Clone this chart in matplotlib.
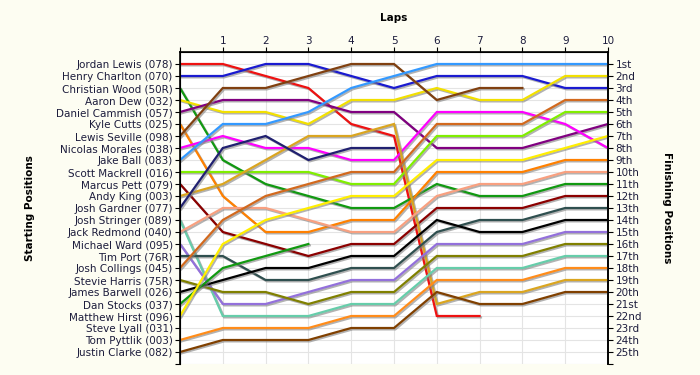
import matplotlib
matplotlib.use("Agg")
import matplotlib.pyplot as plt
import matplotlib.patheffects as pe

# Drivers in starting order (grid slot 1..25)
drivers = [
    "Jordan Lewis (078)", "Henry Charlton (070)", "Christian Wood (50R)",
    "Aaron Dew (032)", "Daniel Cammish (057)", "Kyle Cutts (025)",
    "Lewis Seville (098)", "Nicolas Morales (038)", "Jake Ball (083)",
    "Scott Mackrell (016)", "Marcus Pett (079)", "Andy King (003)",
    "Josh Gardner (077)", "Josh Stringer (089)", "Jack Redmond (040)",
    "Michael Ward (095)", "Tim Port (76R)", "Josh Collings (045)",
    "Stevie Harris (75R)", "James Barwell (026)", "Dan Stocks (037)",
    "Matthew Hirst (096)", "Steve Lyall (031)", "Tom Pyttlik (003)",
    "Justin Clarke (082)",
]

# position at lap 0, 1, 2 ... (shorter list = retired)
lap_positions = [
    [1, 1, 2, 3, 6, 7, 22, 22],
    [2, 2, 1, 1, 2, 3, 2, 2, 2, 3, 3],
    [3, 9, 11, 12, 13, 13, 11, 12, 12, 11, 11],
    [4, 5, 5, 6, 4, 4, 3, 4, 4, 2, 2],
    [5, 4, 4, 4, 5, 5, 8, 8, 8, 7, 6],
    [6, 12, 15, 15, 14, 14, 10, 10, 10, 9, 9],
    [7, 3, 3, 2, 1, 1, 4, 3, 3],
    [8, 7, 8, 8, 9, 9, 5, 5, 5, 6, 8],
    [9, 6, 6, 5, 3, 2, 1, 1, 1, 1, 1],
    [10, 10, 10, 10, 11, 11, 7, 7, 7, 5, 5],
    [11, 15, 16, 17, 16, 16, 13, 13, 13, 12, 12],
    [12, 11, 9, 7, 7, 6, 21, 20, 20, 19, 19],
    [13, 8, 7, 9, 8, 8],
    [14, 22, 22, 22, 21, 21, 18, 18, 18, 17, 17],
    [15, 13, 13, 14, 15, 15, 12, 11, 11, 10, 10],
    [16, 21, 21, 20, 19, 19, 16, 16, 16, 15, 15],
    [17, 17, 19, 19, 18, 18, 15, 14, 14, 13, 13],
    [18, 14, 12, 11, 10, 10, 6, 6, 6, 4, 4],
    [19, 20, 20, 21, 20, 20, 17, 17, 17, 16, 16],
    [20, 19, 18, 18, 17, 17, 14, 15, 15, 14, 14],
    [21, 18, 17, 16],
    [22, 16, 14, 13, 12, 12, 9, 9, 9, 8, 7],
    [],
    [24, 23, 23, 23, 22, 22, 19, 19, 19, 18, 18],
    [25, 24, 24, 24, 23, 23, 20, 21, 21, 20, 20],
]

colors = [
    "#ee1111", "#1a1ad0", "#119911", "#f2e000", "#800080",
    "#ff8000", "#804010", "#ff00ff", "#3399ff", "#80ee00",
    "#8b0000", "#daa520", "#202070", "#66cdaa", "#f8a080",
    "#9370db", "#2f4f4f", "#d2691e", "#808000", "#000000",
    "#119911", "#ffee00", "#999999", "#ff8c1a", "#804000",
]

finish_labels = ["1st", "2nd", "3rd"] + [f"{i}th" for i in range(4, 21)] + \
    ["21st", "22nd", "23rd", "24th", "25th"]

bg = "#fdfdf2"
txt = "#1c1c3c"
fs = 7.5
plt.rcParams["font.family"] = ["DejaVu Sans"]

fig = plt.figure(figsize=(7, 3.75), dpi=100, facecolor=bg)
ax = fig.add_axes([180 / 700, 1 - 364 / 375, 428 / 700, 312 / 375])
ax.set_facecolor("white")

shadow = [pe.SimpleLineShadow(offset=(1, -1), shadow_color="gray", alpha=0.6),
          pe.Normal()]
for pos, c in zip(lap_positions, colors):
    if not pos:
        continue
    ax.plot(range(len(pos)), pos, color=c, lw=1.6, solid_joinstyle="miter",
            path_effects=shadow, zorder=3)

ax.set_xlim(0, 10)
ax.set_ylim(26, 0)
ax.set_xticks(range(11))
ax.set_xticklabels([""] + [str(i) for i in range(1, 11)])
ax.xaxis.tick_top()
ax.set_yticks(range(1, 27))
ax.set_yticklabels(drivers + [""])
ax.grid(True, color="#e4e4e4", lw=0.8, zorder=0)
ax.tick_params(axis="y", labelsize=fs, labelcolor=txt, length=3.8,
               width=0.8, pad=1.5)
ax.tick_params(axis="x", labelsize=fs, labelcolor=txt, length=3.6,
               width=0.8, pad=0.8)
ax.spines["bottom"].set_visible(False)
for s in ["left", "top", "right"]:
    ax.spines[s].set_linewidth(1.2)

ax2 = ax.twinx()
ax2.set_ylim(26, 0)
ax2.set_yticks(range(1, 27))
ax2.set_yticklabels(finish_labels + [""])
ax2.tick_params(axis="y", labelsize=fs, labelcolor=txt, length=3.8,
                width=0.8, pad=1.5)
ax2.spines["bottom"].set_visible(False)
ax2.spines["right"].set_linewidth(1.2)

fig.text(394 / 700, 1 - 18 / 375, "Laps", ha="center", va="center",
         fontsize=fs, fontweight="bold")
fig.text(30 / 700, 1 - 208 / 375, "Starting Positions", ha="center",
         va="center", rotation=90, fontsize=fs, fontweight="bold")
fig.text(667 / 700, 1 - 208 / 375, "Finishing Positions", ha="center",
         va="center", rotation=-90, fontsize=fs, fontweight="bold")

fig.savefig("out.png", dpi=100, facecolor=bg)
